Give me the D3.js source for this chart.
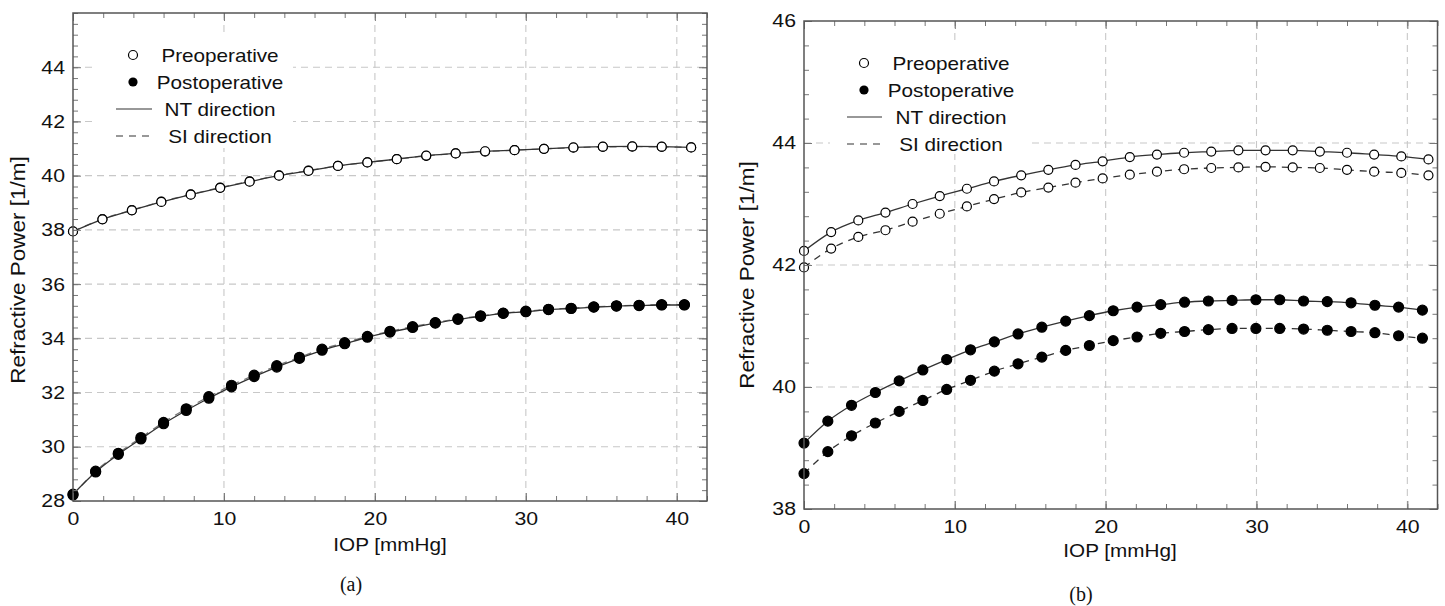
<!DOCTYPE html>
<html>
<head>
<meta charset="utf-8">
<script src="https://cdn.jsdelivr.net/npm/d3@7"></script>
<style>
  body { margin: 0; background: #fff; }
  svg { display: block; font-family: "Liberation Sans", Arial, sans-serif; }
  .cap { font-family: "Liberation Serif", "DejaVu Serif", serif; }
</style>
</head>
<body>
<svg id="fig" width="1445" height="606"></svg>
<script>
// ---- panel (a) ----
const xPreA = [0, 1.95, 3.9, 5.85, 7.8, 9.75, 11.7, 13.65, 15.6, 17.55, 19.5, 21.45, 23.4, 25.35, 27.3, 29.25, 31.2, 33.15, 35.1, 37.05, 39.0, 40.95];
const preNtA = [37.94, 38.39, 38.72, 39.03, 39.30, 39.55, 39.78, 40.00, 40.18, 40.36, 40.49, 40.61, 40.74, 40.82, 40.90, 40.94, 40.99, 41.04, 41.07, 41.08, 41.07, 41.04];
const preSiA = [37.95, 38.40, 38.73, 39.04, 39.31, 39.56, 39.79, 40.01, 40.19, 40.36, 40.49, 40.61, 40.73, 40.82, 40.89, 40.94, 40.99, 41.03, 41.06, 41.07, 41.06, 41.04];
const xPostA = [0, 1.5, 3, 4.5, 6, 7.5, 9, 10.5, 12, 13.5, 15, 16.5, 18, 19.5, 21, 22.5, 24, 25.5, 27, 28.5, 30, 31.5, 33, 34.5, 36, 37.5, 39, 40.5];
const postNtA = [28.25, 29.07, 29.72, 30.29, 30.85, 31.34, 31.79, 32.21, 32.59, 32.94, 33.26, 33.56, 33.80, 34.04, 34.23, 34.40, 34.56, 34.70, 34.81, 34.92, 34.98, 35.06, 35.10, 35.15, 35.19, 35.21, 35.23, 35.23];
const postSiA = [28.22, 29.10, 29.76, 30.34, 30.90, 31.40, 31.85, 32.27, 32.64, 32.99, 33.30, 33.60, 33.84, 34.07, 34.26, 34.43, 34.58, 34.72, 34.83, 34.93, 35.00, 35.07, 35.11, 35.16, 35.20, 35.22, 35.24, 35.24];

// ---- panel (b) ----
const xPreB = [0, 1.8, 3.6, 5.4, 7.2, 9.0, 10.8, 12.6, 14.4, 16.2, 18.0, 19.8, 21.6, 23.4, 25.2, 27.0, 28.8, 30.6, 32.4, 34.2, 36.0, 37.8, 39.6, 41.4];
const preNtB = [42.23, 42.54, 42.73, 42.86, 43.00, 43.13, 43.25, 43.37, 43.47, 43.56, 43.64, 43.70, 43.77, 43.81, 43.84, 43.86, 43.88, 43.88, 43.88, 43.86, 43.84, 43.81, 43.78, 43.73];
const preSiB = [41.96, 42.27, 42.46, 42.57, 42.71, 42.84, 42.96, 43.08, 43.19, 43.27, 43.35, 43.42, 43.48, 43.53, 43.57, 43.59, 43.60, 43.61, 43.60, 43.59, 43.56, 43.53, 43.51, 43.47];
const xPostB = [0, 1.58, 3.15, 4.73, 6.31, 7.88, 9.46, 11.04, 12.62, 14.19, 15.77, 17.35, 18.92, 20.5, 22.08, 23.65, 25.23, 26.81, 28.38, 29.96, 31.54, 33.12, 34.69, 36.27, 37.85, 39.42, 41.0];
const postNtB = [39.08, 39.44, 39.70, 39.91, 40.10, 40.28, 40.45, 40.61, 40.74, 40.87, 40.98, 41.08, 41.17, 41.25, 41.31, 41.35, 41.39, 41.41, 41.42, 41.43, 41.43, 41.41, 41.40, 41.38, 41.34, 41.31, 41.26];
const postSiB = [38.58, 38.94, 39.20, 39.41, 39.60, 39.78, 39.96, 40.11, 40.26, 40.38, 40.49, 40.60, 40.68, 40.76, 40.82, 40.88, 40.91, 40.94, 40.96, 40.96, 40.96, 40.95, 40.93, 40.91, 40.89, 40.84, 40.80];

// ticks / labels
const xTicks = [0, 10, 20, 30, 40];
const yTicksA = [28, 30, 32, 34, 36, 38, 40, 42, 44];
const yTicksB = [38, 40, 42, 44, 46];
const legendLabels = ["Preoperative", "Postoperative", "NT direction", "SI direction"];
const xLabel = "IOP [mmHg]";
const yLabel = "Refractive Power [1/m]";

const SX = 1.15; // the figure text is a bit wide
const svg = d3.select("#fig");

function txt(g, x, y, s, anchor, size) {
    return g.append("text")
        .attr("transform", "translate(" + x + "," + y + ") scale(" + SX + ",1)")
        .attr("text-anchor", anchor)
        .style("font-size", size + "px")
        .attr("fill", "#111")
        .text(s);
}

function drawPanel(p) {
    let g = svg.append("g");
    let x = d3.scaleLinear().domain([0, 42]).range([p.left, p.right]);
    let y = d3.scaleLinear().domain(p.yDomain).range([p.bottom, p.top]);
    let w = p.right - p.left, h = p.bottom - p.top;

    // grid
    g.append("g").selectAll("line").data(xTicks.filter(d => d > 0)).enter().append("line")
        .attr("x1", d => x(d)).attr("x2", d => x(d)).attr("y1", p.top).attr("y2", p.bottom)
        .attr("stroke", "#c8c8c8").attr("stroke-width", 1.1).attr("stroke-dasharray", "7,5");
    g.append("g").selectAll("line").data(p.yTicks.filter(d => d > p.yDomain[0] && d < p.yDomain[1])).enter().append("line")
        .attr("y1", d => y(d)).attr("y2", d => y(d)).attr("x1", p.left).attr("x2", p.right)
        .attr("stroke", "#c8c8c8").attr("stroke-width", 1.1).attr("stroke-dasharray", "7,5");

    // legend background hides grid
    g.append("rect").attr("x", p.legBox[0]).attr("y", p.legBox[1]).attr("width", p.legBox[2]).attr("height", p.legBox[3]).attr("fill", "#fff");

    let line = d3.line().x(d => x(d[0])).y(d => y(d[1])).curve(d3.curveMonotoneX);
    let series = [
        {xs: p.xPre, ys: p.preSi, dash: true, fill: "#fff"},
        {xs: p.xPre, ys: p.preNt, dash: false, fill: "#fff"},
        {xs: p.xPost, ys: p.postSi, dash: true, fill: "#000"},
        {xs: p.xPost, ys: p.postNt, dash: false, fill: "#000"}
    ];
    series.forEach(function (s) {
        let pts = s.xs.map((v, i) => [v, s.ys[i]]);
        g.append("path").attr("d", line(pts)).attr("fill", "none")
            .attr("stroke", s.dash ? p.dashColor : "#333").attr("stroke-width", 1.3)
            .attr("stroke-dasharray", s.dash ? "7,6" : null);
    });
    series.forEach(function (s) {
        let pts = s.xs.map((v, i) => [v, s.ys[i]]);
        g.append("g").selectAll("circle").data(pts).enter().append("circle")
            .attr("cx", d => x(d[0])).attr("cy", d => y(d[1]))
            .attr("r", s.fill == "#000" ? 5 : 4.5)
            .attr("fill", s.fill).attr("stroke", "#000").attr("stroke-width", 1.2);
    });

    // axes, ticks pointing inward
    let minorX = d3.range(0, 42.01, 2);
    let minorY = d3.range(p.yDomain[0], p.yDomain[1] + 0.01, 0.4);
    let bottom = g.append("g").attr("transform", "translate(0," + p.bottom + ")");
    bottom.call(d3.axisBottom(x).tickValues(minorX).tickSize(-5).tickFormat(""));
    bottom.append("g").call(d3.axisBottom(x).tickValues(xTicks).tickSize(-8).tickPadding(11));
    let top = g.append("g").attr("transform", "translate(0," + p.top + ")");
    top.call(d3.axisTop(x).tickValues(minorX).tickSize(-5).tickFormat(""));
    top.append("g").call(d3.axisTop(x).tickValues(xTicks).tickSize(-8).tickFormat(""));
    let left = g.append("g").attr("transform", "translate(" + p.left + ",0)");
    left.call(d3.axisLeft(y).tickValues(minorY).tickSize(-5).tickFormat(""));
    left.append("g").call(d3.axisLeft(y).tickValues(p.yTicks).tickSize(-8).tickPadding(7));
    let right = g.append("g").attr("transform", "translate(" + p.right + ",0)");
    right.call(d3.axisRight(y).tickValues(minorY).tickSize(-5).tickFormat(""));
    right.append("g").call(d3.axisRight(y).tickValues(p.yTicks).tickSize(-8).tickFormat(""));

    g.selectAll(".domain").remove();
    g.selectAll(".tick line").attr("stroke", "#777").attr("stroke-width", 1);
    g.selectAll(".tick text")
        .style("font-size", "18.5px").style("font-family", "Liberation Sans, Arial, sans-serif")
        .attr("fill", "#111")
        .attr("transform", "scale(" + SX + ",1)");

    // frame
    g.append("rect").attr("x", p.left).attr("y", p.top).attr("width", w).attr("height", h)
        .attr("fill", "none").attr("stroke", "#555").attr("stroke-width", 1.5);

    // axis labels
    txt(g, p.xLabelPos[0], p.xLabelPos[1], xLabel, "middle", 18);
    g.append("text")
        .attr("transform", "translate(" + p.yLabelPos[0] + "," + p.yLabelPos[1] + ") rotate(-90) scale(1.25,1.1)")
        .attr("text-anchor", "middle").style("font-size", "18px").attr("fill", "#111")
        .text(yLabel);
    g.append("text").attr("class", "cap").attr("x", p.capPos[0]).attr("y", p.capPos[1])
        .attr("text-anchor", "middle").style("font-size", "20px").attr("fill", "#111").text(p.caption);

    // legend
    let L = p.leg;
    g.append("circle").attr("cx", L.mx).attr("cy", L.rows[0]).attr("r", 4.5).attr("fill", "#fff").attr("stroke", "#000").attr("stroke-width", 1.2);
    g.append("circle").attr("cx", L.mx).attr("cy", L.rows[1]).attr("r", 4.6).attr("fill", "#000");
    g.append("line").attr("x1", L.l0).attr("x2", L.l1).attr("y1", L.rows[2]).attr("y2", L.rows[2]).attr("stroke", "#333").attr("stroke-width", 1.2);
    g.append("line").attr("x1", L.l0).attr("x2", L.l1).attr("y1", L.rows[3]).attr("y2", L.rows[3]).attr("stroke", "#333").attr("stroke-width", 1.2).attr("stroke-dasharray", "7,6");
    legendLabels.forEach(function (s, i) {
        txt(g, L.tx, L.rows[i] + 6.5, s, "middle", 18);
    });
}

drawPanel({
    left: 73, right: 707, top: 13, bottom: 501, yDomain: [28, 46], yTicks: yTicksA,
    xPre: xPreA, preNt: preNtA, preSi: preSiA, xPost: xPostA, postNt: postNtA, postSi: postSiA,
    dashColor: "#777",
    legBox: [92, 37, 201, 111],
    leg: {mx: 133, tx: 220, l0: 116, l1: 152, rows: [55, 82, 109, 136]},
    xLabelPos: [390, 551], yLabelPos: [25, 270], capPos: [351, 591], caption: "(a)"
});
drawPanel({
    left: 804, right: 1437.5, top: 21, bottom: 509, yDomain: [38, 46], yTicks: yTicksB,
    xPre: xPreB, preNt: preNtB, preSi: preSiB, xPost: xPostB, postNt: postNtB, postSi: postSiB,
    dashColor: "#333",
    legBox: [830, 40, 198, 114],
    leg: {mx: 864, tx: 951, l0: 847, l1: 882, rows: [63, 90, 117, 144]},
    xLabelPos: [1120, 557], yLabelPos: [754, 275], capPos: [1081, 601], caption: "(b)"
});
</script>
</body>
</html>
